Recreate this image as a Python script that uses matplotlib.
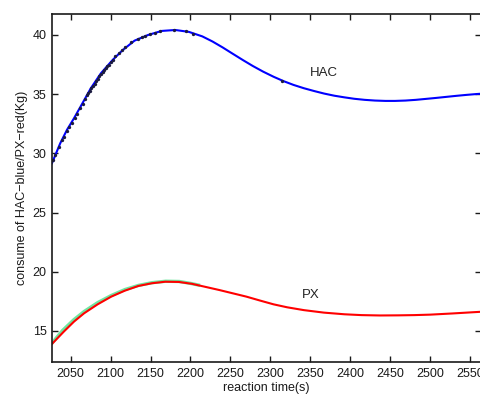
import matplotlib
matplotlib.use("Agg")
import matplotlib.pyplot as plt

plt.rcParams['font.family'] = ['Liberation Sans', 'DejaVu Sans']

# fitted HAC curve (blue)
hac_t = [2026.6, 2037, 2045.4, 2054.2, 2064.8, 2075.3, 2088, 2102.6, 2115.3, 2130,
         2147, 2164, 2181, 2198, 2214.8, 2227.5, 2240.2, 2252, 2265.6, 2278, 2291, 2304,
         2316.5, 2329, 2342, 2355, 2367.3, 2380, 2392.7, 2405, 2418, 2431, 2443.8,
         2456, 2469, 2482, 2494.6, 2507, 2520, 2533, 2545.6, 2558, 2571]
hac_y = [29.16, 30.85, 31.98, 32.96, 34.23, 35.5, 36.77, 37.89, 38.73, 39.52,
         40.0, 40.34, 40.42, 40.26, 39.88, 39.45, 38.95, 38.45, 37.88, 37.38, 36.9, 36.47,
         36.1, 35.78, 35.5, 35.26, 35.05, 34.87, 34.73, 34.61, 34.52, 34.46, 34.43,
         34.43, 34.46, 34.52, 34.6, 34.68, 34.77, 34.86, 34.94, 35.01, 35.07]

# fitted PX curve (red)
px_t = [2026.6, 2041.4, 2054.2, 2066.8, 2083.8, 2100.8, 2117.7, 2134.7, 2151.6, 2168.5,
        2185.5, 2202, 2219, 2236, 2253, 2270, 2287, 2304, 2321, 2342, 2367, 2392.7,
        2414, 2437, 2460, 2480, 2500, 2528, 2558, 2571]
px_y = [13.9, 14.94, 15.79, 16.49, 17.25, 17.9, 18.4, 18.8, 19.03, 19.16,
        19.14, 18.98, 18.72, 18.46, 18.18, 17.9, 17.57, 17.25, 17.0, 16.76, 16.55, 16.41,
        16.34, 16.31, 16.32, 16.34, 16.38, 16.48, 16.6, 16.65]

# measured HAC points (black dots)
hac_obs_t = [2028, 2031, 2035, 2039, 2042, 2045, 2048, 2052, 2055, 2058, 2062, 2065,
             2068, 2070, 2072, 2074, 2076, 2078, 2080, 2082, 2084, 2086, 2088, 2090,
             2092, 2094, 2096, 2098, 2100, 2103, 2106, 2110, 2114, 2118, 2126, 2134,
             2139, 2143, 2149, 2155, 2162, 2180, 2194, 2203, 2315]
hac_obs_y = [29.4, 29.9, 30.5, 31.1, 31.4, 31.9, 32.2, 32.6, 33.0, 33.3, 33.8, 34.2,
             34.6, 34.9, 35.1, 35.3, 35.5, 35.7, 35.9, 36.1, 36.3, 36.5, 36.7, 36.9,
             37.0, 37.2, 37.4, 37.5, 37.7, 37.9, 38.2, 38.5, 38.7, 39.0, 39.4, 39.7,
             39.8, 39.95, 40.05, 40.2, 40.3, 40.4, 40.3, 40.05, 36.12]

# measured PX values (green)
px_obs_t = [2027, 2040, 2054, 2067, 2084, 2101, 2118, 2135, 2152, 2169, 2186, 2200, 2210]
px_obs_y = [14.0, 15.05, 15.95, 16.65, 17.4, 18.0, 18.5, 18.85, 19.08, 19.2, 19.18, 19.02, 18.88]

fig = plt.figure(figsize=(4.81, 3.94), dpi=100)
ax = fig.add_axes([52 / 481, 1 - 362 / 394, 1 - 52 / 481, (362 - 14) / 394])

ax.plot(px_obs_t, px_obs_y, color='#6fe6a0', lw=2.4)
ax.plot(px_t, px_y, color='#ff0000', lw=1.5)
ax.plot(hac_t, hac_y, color='#0000ff', lw=1.5)
ax.plot(hac_obs_t, hac_obs_y, 'o', color='#1a1a40', ms=2.4, mew=0)

ax.text(2367, 36.8, 'HAC', fontsize=9.5, color='#222222', ha='center', va='center')
ax.text(2350, 18.05, 'PX', fontsize=9.5, color='#222222', ha='center', va='center')

ax.set_xlim(2026.7, 2563.6)
ax.set_ylim(12.38, 41.77)
ax.set_xticks(range(2050, 2551, 50))
ax.set_yticks([15, 20, 25, 30, 35, 40])

for s in ax.spines.values():
    s.set_linewidth(1.2)
    s.set_color('#1a1a1a')
ax.tick_params(direction='in', top=True, right=True, length=4, width=1,
               labelsize=9, colors='#1a1a1a', pad=4)
ax.set_xlabel('reaction time(s)', fontsize=9, color='#1a1a1a', labelpad=2)
ax.set_ylabel('consume of HAC\u2212blue/PX\u2212red(Kg)', fontsize=9, color='#1a1a1a', labelpad=3)

fig.savefig('out.png', dpi=100)
